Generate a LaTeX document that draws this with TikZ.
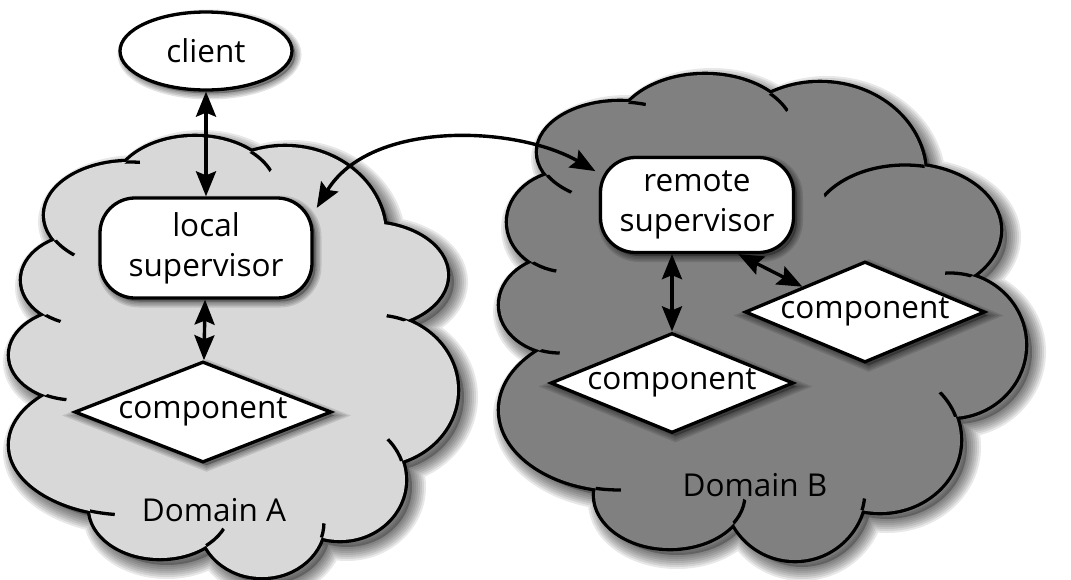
\documentclass[tikz,border=0pt]{standalone}
\usepackage{fontspec}
\setmainfont{Open Sans}
\usetikzlibrary{shapes.geometric,arrows.meta,calc}
\definecolor{cloudAfill}{RGB}{216,216,216}
\definecolor{cloudBfill}{RGB}{128,128,128}
% cloud A puffs
\def\cAa{(195,192) ellipse[x radius=82,y radius=55]}
\def\cAb{(285,235) ellipse[x radius=100,y radius=88]}
\def\cAc{(130,215) ellipse[x radius=85,y radius=53]}
\def\cAd{(85,280) ellipse[x radius=63,y radius=45]}
\def\cAe{(75,355) ellipse[x radius=65,y radius=45]}
\def\cAf{(130,445) ellipse[x radius=120,y radius=70]}
\def\cAg{(160,508) ellipse[x radius=70,y radius=50]}
\def\cAh{(262,522) ellipse[x radius=62,y radius=55]}
\def\cAi{(340,480) ellipse[x radius=65,y radius=60]}
\def\cAj{(375,390) ellipse[x radius=82,y radius=75]}
\def\cAk{(367,275) ellipse[x radius=80,y radius=52]}
\def\cAl{(220,360) ellipse[x radius=140,y radius=130]}
\def\cloudA{\cAa \cAb \cAc \cAd \cAe \cAf \cAg \cAh \cAi \cAj \cAk \cAl}
% cloud B puffs
\def\cBa{(705,135) ellipse[x radius=90,y radius=60]}
\def\cBb{(820,175) ellipse[x radius=105,y radius=92]}
\def\cBc{(620,152) ellipse[x radius=82,y radius=50]}
\def\cBd{(568,222) ellipse[x radius=60,y radius=50]}
\def\cBe{(560,305) ellipse[x radius=60,y radius=48]}
\def\cBf{(620,410) ellipse[x radius=120,y radius=80]}
\def\cBg{(670,495) ellipse[x radius=75,y radius=53]}
\def\cBh{(795,490) ellipse[x radius=70,y radius=70]}
\def\cBi{(880,440) ellipse[x radius=80,y radius=72]}
\def\cBj{(950,345) ellipse[x radius=75,y radius=72]}
\def\cBk{(905,230) ellipse[x radius=95,y radius=65]}
\def\cBl{(760,320) ellipse[x radius=190,y radius=160]}
\def\cloudB{\cBa \cBb \cBc \cBd \cBe \cBf \cBg \cBh \cBi \cBj \cBk \cBl}
\newcommand\cloudtail[4]{\begin{scope}\clip #2;\clip #3 circle[radius=#4];\draw[tail] #1;\end{scope}}
\begin{document}
\begin{tikzpicture}[x=1pt,y=-1pt,
  font=\fontsize{31.5}{40}\selectfont,
  shlayer/.style={preaction={fill=none, draw=black, line width=#1, opacity=.11,
      transform canvas={xshift=3.5pt,yshift=-3.5pt}}},
  softshadow/.style={
    preaction={fill=black, draw=none, opacity=.3, transform canvas={xshift=3.5pt,yshift=-3.5pt}},
    shlayer=3pt, shlayer=6pt, shlayer=9pt, shlayer=12pt},
  box/.style={draw=black, line width=3.3pt, fill=white, align=center, inner sep=0pt, softshadow},
  compbox/.style={box, diamond, aspect=2.5, minimum width=257pt, minimum height=101pt},
  tail/.style={line width=3.3pt},
  tip/.tip={Stealth[length=25pt,width=20pt,inset=4pt]},
  dbl/.style={{tip}-{tip}, line width=3.4pt}]
\useasboundingbox (0,0) rectangle (1071,579);
% cloud shadows (offset, blurred by widening strokes)
\begin{scope}[shift={(7,7)}]
  \fill[black,opacity=.25] \cloudA;
  \fill[black,opacity=.25] \cloudB;
  \foreach \w in {4,8,12,16,20,24,28}{
    \draw[black,opacity=.09,line width=\w pt] \cloudA;
    \draw[black,opacity=.09,line width=\w pt] \cloudB;
  }
\end{scope}
% cloud A
\draw[line width=6.6pt] \cloudA;
\fill[cloudAfill] \cloudA;
\cloudtail{\cAa}{\cAb}{(250,152)}{28}
\cloudtail{\cAc}{\cAa}{(125,163)}{15}
\cloudtail{\cAc}{\cAd}{(53,237)}{28}
\cloudtail{\cAd}{\cAe}{(43,312)}{20}
\cloudtail{\cAe}{\cAf}{(45,395)}{22}
\cloudtail{\cAf}{\cAg}{(91,512)}{24}
\cloudtail{\cAg}{\cAh}{(207,546)}{24}
\cloudtail{\cAh}{\cAi}{(321,538)}{15}
\cloudtail{\cAi}{\cAj}{(404,462)}{28}
\cloudtail{\cAj}{\cAk}{(408,321)}{22}
% cloud B
\draw[line width=6.6pt] \cloudB;
\fill[cloudBfill] \cloudB;
\cloudtail{\cBc}{\cBa}{(630,102)}{16}
\cloudtail{\cBa}{\cBb}{(770,93)}{25}
\cloudtail{\cBc}{\cBd}{(547,175)}{30}
\cloudtail{\cBd}{\cBe}{(533,262)}{25}
\cloudtail{\cBe}{\cBf}{(540,350)}{20}
\cloudtail{\cBf}{\cBg}{(597,489)}{24}
\cloudtail{\cBg}{\cBh}{(734,522)}{25}
\cloudtail{\cBh}{\cBi}{(861,513)}{15}
\cloudtail{\cBi}{\cBj}{(953,417)}{28}
\cloudtail{\cBj}{\cBk}{(973,276)}{28}
\cloudtail{\cBk}{\cBb}{(923,170)}{102}
% nodes
\node[box, ellipse, minimum width=172pt, minimum height=78pt] (client) at (206,51) {client};
\node[box, rectangle, rounded corners=35pt, minimum width=212pt, minimum height=100pt] (ls) at (206,248) {local\\supervisor};
\node[compbox] (ca) at (203,412) {component};
\node (da) at (214,510) {Domain A};
\node[box, rectangle, rounded corners=35pt, minimum width=193pt, minimum height=95pt] (rs) at (697,205) {remote\\supervisor};
\node[compbox, minimum width=243pt, minimum height=100pt] (cb1) at (672,383) {component};
\node[compbox, minimum width=240pt, minimum height=101pt] (cb2) at (865,312) {component};
\node (db) at (755,485) {Domain B};
% connectors
\draw[dbl] (client) -- (ls);
\draw[dbl] (ls) -- (ca);
\draw[dbl] (cb1.north |- rs.south) -- (cb1.north);
\draw[dbl] (rs.-50) -- (cb2.158);
\draw[dbl, shorten <=6pt, shorten >=4pt] (ls.18) .. controls (370,120) and (515,125) .. (rs.162);
\end{tikzpicture}
\end{document}
